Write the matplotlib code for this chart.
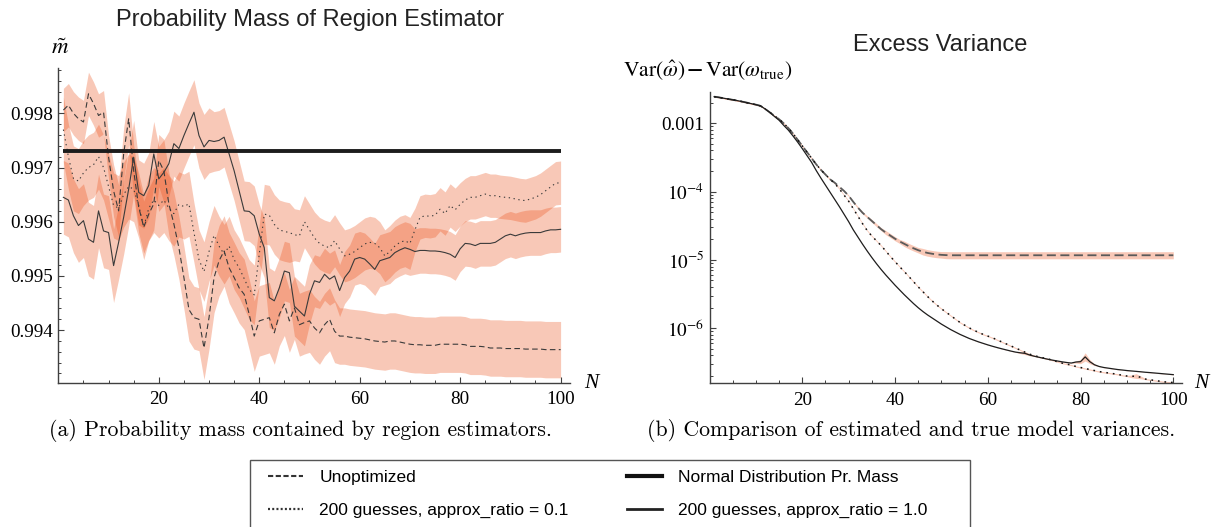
import numpy as np
import matplotlib
matplotlib.use('Agg')
import matplotlib.pyplot as plt
from matplotlib.lines import Line2D
from matplotlib.patches import Rectangle
from matplotlib.ticker import FixedLocator, NullFormatter, LogLocator, FixedFormatter

plt.rcParams['mathtext.fontset'] = 'stix'
plt.rcParams['font.family'] = ['Liberation Serif', 'DejaVu Serif']

# ---------------- data ----------------
N = list(range(1, 101))

# (a) probability mass of region estimators
mass_unopt = [0.99806, 0.99815, 0.99800, 0.99790, 0.99784, 0.99836, 0.99818, 0.99796, 0.99802, 0.99719,
              0.99657, 0.99620, 0.99725, 0.99790, 0.99694, 0.99627, 0.99590, 0.99614, 0.99633, 0.99713,
              0.99694, 0.99633, 0.99596, 0.99552, 0.99497, 0.99438, 0.99423, 0.99420, 0.99367, 0.99423,
              0.99497, 0.99528, 0.99546, 0.99515, 0.99497, 0.99478, 0.99466, 0.99429, 0.99389, 0.99417,
              0.99420, 0.99423, 0.99395, 0.99429, 0.99448, 0.99417, 0.99441, 0.99410, 0.99414, 0.99417,
              0.99404, 0.99395, 0.99410, 0.99420, 0.99398, 0.99389, 0.99389, 0.99387, 0.99386, 0.99385,
              0.99384, 0.99382, 0.99380, 0.99379, 0.99378, 0.99380, 0.99380, 0.99378, 0.99376, 0.99374,
              0.99373, 0.99373, 0.99372, 0.99372, 0.99372, 0.99374, 0.99374, 0.99374, 0.99374, 0.99374,
              0.99373, 0.99370, 0.99370, 0.99370, 0.99369, 0.99367, 0.99367, 0.99367, 0.99366, 0.99366,
              0.99366, 0.99366, 0.99365, 0.99365, 0.99365, 0.99365, 0.99364, 0.99364, 0.99364, 0.99364]
mass_r01 = [0.99770, 0.99720, 0.99680, 0.99675, 0.99690, 0.99700, 0.99705, 0.99720, 0.99700, 0.99665,
            0.99630, 0.99625, 0.99650, 0.99665, 0.99660, 0.99630, 0.99590, 0.99625, 0.99640, 0.99630,
            0.99640, 0.99625, 0.99615, 0.99632, 0.99628, 0.99633, 0.99580, 0.99530, 0.99508, 0.99545,
            0.99575, 0.99555, 0.99540, 0.99555, 0.99530, 0.99515, 0.99495, 0.99475, 0.99465, 0.99540,
            0.99614, 0.99612, 0.99595, 0.99585, 0.99582, 0.99580, 0.99576, 0.99574, 0.99600, 0.99585,
            0.99570, 0.99560, 0.99555, 0.99552, 0.99565, 0.99550, 0.99537, 0.99540, 0.99545, 0.99552,
            0.99559, 0.99562, 0.99560, 0.99552, 0.99537, 0.99545, 0.99555, 0.99562, 0.99565, 0.99560,
            0.99585, 0.99608, 0.99611, 0.99610, 0.99612, 0.99623, 0.99615, 0.99630, 0.99622, 0.99632,
            0.99640, 0.99645, 0.99645, 0.99648, 0.99651, 0.99648, 0.99648, 0.99646, 0.99645, 0.99644,
            0.99642, 0.99640, 0.99639, 0.99642, 0.99645, 0.99650, 0.99657, 0.99664, 0.99671, 0.99672]
mass_r10 = [0.99645, 0.99640, 0.99611, 0.99593, 0.99602, 0.99568, 0.99562, 0.99620, 0.99583, 0.99580,
            0.99519, 0.99562, 0.99608, 0.99660, 0.99719, 0.99654, 0.99648, 0.99667, 0.99725, 0.99679,
            0.99691, 0.99707, 0.99744, 0.99735, 0.99759, 0.99781, 0.99802, 0.99759, 0.99738, 0.99750,
            0.99748, 0.99750, 0.99756, 0.99725, 0.99694, 0.99657, 0.99620, 0.99619, 0.99611, 0.99577,
            0.99552, 0.99460, 0.99454, 0.99478, 0.99509, 0.99506, 0.99444, 0.99435, 0.99426, 0.99466,
            0.99491, 0.99488, 0.99503, 0.99494, 0.99500, 0.99473, 0.99497, 0.99509, 0.99531, 0.99534,
            0.99531, 0.99522, 0.99512, 0.99528, 0.99531, 0.99534, 0.99543, 0.99548, 0.99552, 0.99549,
            0.99545, 0.99547, 0.99547, 0.99546, 0.99546, 0.99545, 0.99543, 0.99540, 0.99534, 0.99550,
            0.99560, 0.99559, 0.99556, 0.99560, 0.99560, 0.99560, 0.99562, 0.99568, 0.99574, 0.99577,
            0.99574, 0.99577, 0.99579, 0.99580, 0.99580, 0.99580, 0.99583, 0.99585, 0.99585, 0.99586]
mass_normal = 0.9973

# half-widths of the shaded error bands in (a)
err_unopt = [0.00040]*10 + [0.00048]*10 + [0.00058]*10 + [0.00065]*12 + [0.00058]*13 + [0.00052]*45
err_r01 = [0.00060]*26 + [0.00055]*20 + [0.00048]*24 + [0.00040]*30
err_r10 = [0.00068]*15 + [0.00060]*15 + [0.00055]*20 + [0.00048]*20 + [0.00042]*30

# (b) excess variance, stored as log10 values
logvar_r10 = [-2.610, -2.620, -2.632, -2.644, -2.656, -2.668, -2.682, -2.697, -2.712, -2.727,
              -2.745, -2.790, -2.840, -2.900, -2.955, -3.030, -3.100, -3.185, -3.275, -3.370,
              -3.470, -3.570, -3.690, -3.800, -3.905, -4.010, -4.115, -4.220, -4.330, -4.440,
              -4.560, -4.665, -4.770, -4.870, -4.965, -5.055, -5.140, -5.220, -5.295, -5.370,
              -5.440, -5.510, -5.575, -5.640, -5.700, -5.755, -5.805, -5.850, -5.895, -5.940,
              -5.980, -6.020, -6.055, -6.090, -6.120, -6.150, -6.175, -6.200, -6.222, -6.244,
              -6.264, -6.283, -6.301, -6.318, -6.335, -6.350, -6.360, -6.368, -6.392, -6.410,
              -6.425, -6.440, -6.455, -6.468, -6.480, -6.492, -6.502, -6.510, -6.495, -6.490,
              -6.420, -6.490, -6.535, -6.560, -6.575, -6.585, -6.595, -6.605, -6.612, -6.620,
              -6.626, -6.632, -6.638, -6.645, -6.650, -6.656, -6.662, -6.668, -6.674, -6.680]
logvar_r01 = logvar_r10[:13] + [
              -2.890, -2.940, -3.000, -3.070, -3.150, -3.240, -3.330,
              -3.420, -3.510, -3.600, -3.680, -3.750, -3.820, -3.880, -3.960, -4.050, -4.140,
              -4.250, -4.360, -4.470, -4.570, -4.650, -4.720, -4.790, -4.870, -4.950, -5.025,
              -5.100, -5.170, -5.245, -5.320, -5.395, -5.465, -5.535, -5.600, -5.660, -5.715,
              -5.765, -5.815, -5.865, -5.915, -5.955, -5.995, -6.030, -6.060, -6.090, -6.115,
              -6.140, -6.170, -6.200, -6.230, -6.260, -6.290, -6.320, -6.350, -6.380, -6.400,
              -6.420, -6.435, -6.450, -6.470, -6.490, -6.510, -6.525, -6.540, -6.560, -6.575,
              -6.590, -6.605, -6.620, -6.635, -6.645, -6.655, -6.665, -6.675, -6.690, -6.700,
              -6.705, -6.700, -6.720, -6.745, -6.755, -6.765, -6.775, -6.785, -6.790, -6.795]
logvar_unopt = logvar_r01[:26] + [-3.870, -3.930, -3.990, -4.060,
              -4.150, -4.235, -4.310, -4.370, -4.430, -4.490, -4.550, -4.600, -4.645, -4.690,
              -4.730, -4.765, -4.800, -4.830, -4.858, -4.880, -4.898, -4.910, -4.920, -4.926,
              -4.930] + [-4.932]*49

err_log_unopt = [0.004]*28 + [0.010]*3 + [0.016]*3 + [0.022]*3 + [0.030]*4 + [0.040]*4 + [0.048]*5 + [0.052]*50
err_log_r01 = [0.009]*90 + [0.020, 0.035, 0.020] + [0.009]*7
err_log_r10 = [0.003]*66 + [0.012, 0.018, 0.012] + [0.003]*9 + [0.015, 0.030, 0.060, 0.030, 0.012] + [0.003]*17

legend_labels = ['Unoptimized', '200 guesses, approx_ratio = 0.1',
                 'Normal Distribution Pr. Mass', '200 guesses, approx_ratio = 1.0']

# ---------------- styling ----------------
BAND = '#EB4B12'
BAND_ALPHA = 0.30
LINE = '#3a3a3a'
AXC = '#404040'
W, H = 1217, 527

fig = plt.figure(figsize=(W/100, H/100), dpi=100)
axL = fig.add_axes([58.35/W, 1-382.7/H, (570-58.35)/W, (382.7-68)/H])
axR = fig.add_axes([709.5/W, 1-383.3/H, (1181.7-709.5)/W, (383.3-91.7)/H])

Na = np.array(N)

# ---- (a)
for vals, err in ((mass_unopt, err_unopt), (mass_r01, err_r01), (mass_r10, err_r10)):
    v = np.array(vals); e = np.array(err)
    axL.fill_between(Na, v-e, v+e, color=BAND, alpha=BAND_ALPHA, lw=0, zorder=1)
axL.plot(Na, mass_unopt, color=LINE, lw=0.8, ls=(0, (5, 3)), zorder=3)
axL.plot(Na, mass_r01, color=LINE, lw=0.8, ls=(0, (1.2, 3.2)), zorder=3)
axL.plot(Na, mass_r10, color=LINE, lw=0.8, zorder=3)
axL.hlines(mass_normal, 1, 100, color='#1c1c1c', lw=2.8, zorder=4)

axL.set_xlim(0, (570-58.35)/5.0225)
axL.set_ylim(0.99303, 0.998836)
axL.yaxis.set_major_locator(FixedLocator([0.994, 0.995, 0.996, 0.997, 0.998]))
axL.yaxis.set_major_formatter(FixedFormatter(['0.994', '0.995', '0.996', '0.997', '0.998']))
axL.yaxis.set_minor_locator(FixedLocator([0.9932 + 0.0002*i for i in range(29)]))

# ---- (b)
for lv, err in ((logvar_unopt, err_log_unopt), (logvar_r01, err_log_r01), (logvar_r10, err_log_r10)):
    l = np.array(lv); e = np.array(err)
    axR.fill_between(Na, 10**(l-e), 10**(l+e), color=BAND, alpha=0.30, lw=0, zorder=1)
axR.plot(Na, 10**np.array(logvar_unopt), color='#5a5a5a', lw=1.3, ls=(0, (5, 2.5)), zorder=3)
axR.plot(Na, 10**np.array(logvar_r01), color='#111111', lw=1.1, ls=(0, (1.1, 3.2)), zorder=3)
axR.plot(Na, 10**np.array(logvar_r10), color='#1e1e1e', lw=0.9, zorder=3)
axR.set_yscale('log')
axR.set_xlim(0, (1181.7-709.5)/4.638)
axR.set_ylim(1.561e-7, 2.902e-3)
axR.yaxis.set_major_locator(FixedLocator([1e-3, 1e-4, 1e-5, 1e-6]))
axR.yaxis.set_major_formatter(FixedFormatter(['0.001', r'$10^{-4}$', r'$10^{-5}$', r'$10^{-6}$']))
axR.yaxis.set_minor_locator(LogLocator(base=10, subs=np.arange(2, 10), numticks=20))
axR.yaxis.set_minor_formatter(NullFormatter())

for ax in (axL, axR):
    for s in ('top', 'right'):
        ax.spines[s].set_visible(False)
    for s in ('left', 'bottom'):
        ax.spines[s].set_color(AXC)
        ax.spines[s].set_linewidth(1.0)
    ax.xaxis.set_major_locator(FixedLocator([20, 40, 60, 80, 100]))
    ax.xaxis.set_minor_locator(FixedLocator([0, 5, 10, 15, 25, 30, 35, 45, 50, 55, 65, 70, 75, 85, 90, 95]))
    ax.tick_params(which='both', direction='in', color=AXC, labelcolor='black', labelsize=13.8)
    ax.tick_params(which='major', length=4.5, width=0.8)
    ax.tick_params(which='minor', length=2.3, width=0.7)
    ax.tick_params(axis='x', which='major', pad=6)
    ax.tick_params(axis='y', which='major', pad=4)
    ax.set_facecolor('none')

# axis labels
fig.text(591/W, 1-383/H, 'N', fontsize=15.5, style='italic', ha='center', va='center')
fig.text(1201/W, 1-383/H, 'N', fontsize=15.5, style='italic', ha='center', va='center')
fig.text(60/W, 1-48/H, r'$\tilde{m}$', fontsize=16.5, ha='center', va='center')
fig.text(708/W, 1-70/H, r'$\mathrm{Var}(\hat{\omega})\,\mathbf{-}\,\mathrm{Var}(\omega_{\mathrm{true}})$',
         fontsize=15.5, ha='center', va='center')

# titles
fig.text(310/W, 1-20/H, 'Probability Mass of Region Estimator', family='Liberation Sans',
         fontsize=17, color='#222222', ha='center', va='center')
fig.text(940/W, 1-45/H, 'Excess Variance', family='Liberation Sans',
         fontsize=17, color='#222222', ha='center', va='center')

# captions
fig.text(300/W, 1-431/H, '(a) Probability mass contained by region estimators.', family='cmr10',
         fontsize=15.7, ha='center', va='center')
fig.text(911/W, 1-431/H, '(b) Comparison of estimated and true model variances.', family='cmr10',
         fontsize=15.7, ha='center', va='center')

# legend
h_unopt = Line2D([], [], color='#333333', lw=1.5, ls=(0, (2.5, 1.2)))
h_r01 = Line2D([], [], color='#333333', lw=1.6, ls=(0, (0.9, 1.0)))
h_norm = Line2D([], [], color='#111111', lw=3.0)
h_r10 = Line2D([], [], color='#222222', lw=2.0)
fig.patches.append(Rectangle((250/W, 1-540/H), 720/W, 80/H, transform=fig.transFigure,
                             fill=False, edgecolor='#555555', lw=1.0, clip_on=False))
prop = {'family': 'Liberation Sans', 'size': 12.5}
fig.legend([h_unopt, h_r01], legend_labels[:2], loc='center left', bbox_to_anchor=(268/W, 1-494/H),
           frameon=False, borderpad=0, borderaxespad=0, handlelength=2.0, handletextpad=0.95,
           labelspacing=1.0, prop=prop)
fig.legend([h_norm, h_r10], legend_labels[2:], loc='center left', bbox_to_anchor=(627/W, 1-494/H),
           frameon=False, borderpad=0, borderaxespad=0, handlelength=2.0, handletextpad=0.95,
           labelspacing=1.0, prop=prop)

fig.savefig('out.png', dpi=100)
